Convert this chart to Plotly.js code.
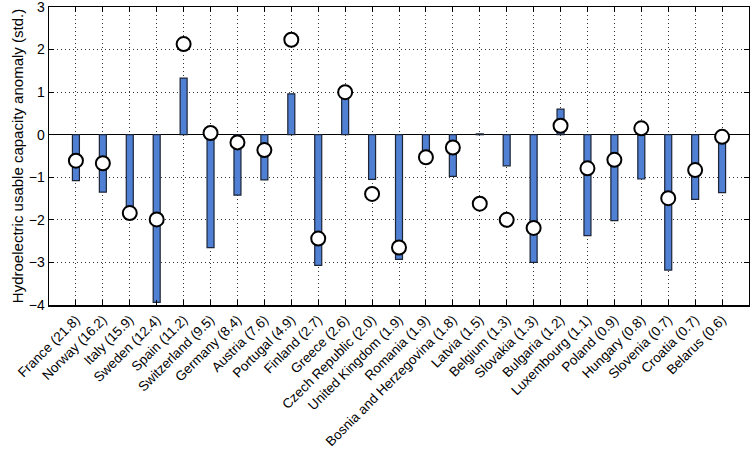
<!DOCTYPE html>
<html>
<head>
<meta charset="utf-8">
<script src="https://cdn.plot.ly/plotly-3.0.1.min.js"></script>
<style>html,body{margin:0;padding:0;background:#fff;}#chart{width:750px;height:452px;}</style>
</head>
<body>
<div id="chart"></div>
<script>
const countries = ["France (21.8)","Norway (16.2)","Italy (15.9)","Sweden (12.4)","Spain (11.2)","Switzerland (9.5)","Germany (8.4)","Austria (7.6)","Portugal (4.9)","Finland (2.7)","Greece (2.6)","Czech Republic (2.0)","United Kingdom (1.9)","Romania (1.9)","Bosnia and Herzegovina (1.8)","Latvia (1.5)","Belgium (1.3)","Slovakia (1.3)","Bulgaria (1.2)","Luxembourg (1.1)","Poland (0.9)","Hungary (0.8)","Slovenia (0.7)","Croatia (0.7)","Belarus (0.6)"];
const barValues = [-1.08,-1.35,-1.8,-3.94,1.33,-2.65,-1.42,-1.06,0.96,-3.07,0.95,-1.05,-2.93,-0.48,-0.98,0.02,-0.73,-3.0,0.6,-2.37,-2.02,-1.04,-3.18,-1.52,-1.36];
const circleValues = [-0.61,-0.67,-1.84,-1.99,2.13,0.04,-0.18,-0.36,2.23,-2.44,1.0,-1.39,-2.65,-0.53,-0.30,-1.62,-2.0,-2.19,0.21,-0.79,-0.59,0.15,-1.49,-0.83,-0.05];
const yTicks = [-4,-3,-2,-1,0,1,2,3];

const positions = countries.map((_, i) => i + 1);

const data = [
  {
    type: 'bar',
    x: positions,
    y: barValues,
    width: 0.26,
    marker: {color: '#4f80d3', line: {color: '#1c2436', width: 1.2}},
    hoverinfo: 'skip',
    showlegend: false
  },
  {
    type: 'scatter',
    mode: 'markers',
    x: positions,
    y: circleValues,
    marker: {symbol: 'circle', size: 14, color: '#ffffff', line: {color: '#000000', width: 2}},
    showlegend: false
  }
];

const layout = {
  width: 750,
  height: 452,
  margin: {l: 49, r: 1, t: 7, b: 147},
  paper_bgcolor: '#ffffff',
  plot_bgcolor: '#ffffff',
  font: {family: 'Liberation Sans, Arial, sans-serif', color: '#000', size: 14},
  bargap: 0,
  xaxis: {
    range: [0, 26],
    tickmode: 'array',
    tickvals: positions,
    ticktext: countries,
    tickangle: -45,
    tickfont: {size: 13.5},
    showgrid: true,
    gridcolor: '#333',
    griddash: '1px,3px',
    gridwidth: 1,
    zeroline: false,
    showline: true,
    linecolor: '#000',
    linewidth: 1.5,
    mirror: 'ticks',
    ticks: 'inside',
    ticklen: 5,
    tickcolor: '#000',
    layer: 'above traces'
  },
  yaxis: {
    range: [-4, 3],
    tickmode: 'array',
    tickvals: yTicks,
    tickfont: {size: 14},
    title: {text: 'Hydroelectric usable capacity anomaly (std.)', font: {size: 15}, standoff: 1},
    showgrid: true,
    gridcolor: '#333',
    griddash: '1px,3px',
    gridwidth: 1,
    zeroline: true,
    zerolinecolor: '#000',
    zerolinewidth: 1.5,
    showline: true,
    linecolor: '#000',
    linewidth: 1.5,
    mirror: 'ticks',
    ticks: 'inside',
    ticklen: 5,
    tickcolor: '#000',
    layer: 'above traces',
    ticklabeloverflow: 'allow'
  }
};

Plotly.newPlot('chart', data, layout, {displayModeBar: false, staticPlot: true});
</script>
</body>
</html>
